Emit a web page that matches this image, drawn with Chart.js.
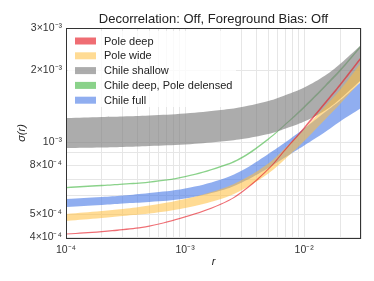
<!DOCTYPE html>
<html>
<head>
<meta charset="utf-8">
<script src="https://cdn.jsdelivr.net/npm/chart.js@4/dist/chart.umd.min.js"></script>
<style>
  html, body { margin: 0; padding: 0; background: #fff; }
  #wrap { width: 374px; height: 281px; }
</style>
</head>
<body>
<div id="wrap"><canvas id="sigmaChart"></canvas></div>
<script>
const rValues = [1e-4, 2e-4, 3e-4, 5e-4, 1e-3, 2e-3, 3e-3, 5e-3, 7e-3, 1e-2, 1.5e-2, 2e-2, 3e-2];

// sigma(r) bands: lower / upper edge
const poleDeepLow  = [4.10e-4, 4.195e-4, 4.275e-4, 4.425e-4, 4.83e-4, 5.47e-4, 6.13e-4, 7.65e-4, 9.27e-4, 1.131e-3, 1.439e-3, 1.711e-3, 2.220e-3];
const poleDeepHigh = [4.14e-4, 4.245e-4, 4.325e-4, 4.475e-4, 4.89e-4, 5.53e-4, 6.23e-4, 7.77e-4, 9.43e-4, 1.157e-3, 1.473e-3, 1.753e-3, 2.274e-3];

const poleWideLow  = [4.671e-4, 4.809e-4, 4.901e-4, 5.020e-4, 5.295e-4, 5.774e-4, 6.297e-4, 7.380e-4, 8.532e-4, 1.010e-3, 1.242e-3, 1.442e-3, 1.800e-3];
const poleWideHigh = [4.996e-4, 5.144e-4, 5.244e-4, 5.423e-4, 5.774e-4, 6.358e-4, 6.934e-4, 8.128e-4, 9.484e-4, 1.133e-3, 1.408e-3, 1.650e-3, 2.141e-3];

const chileShallowLow  = [9.438e-4, 9.484e-4, 9.530e-4, 9.622e-4, 9.762e-4, 1.005e-3, 1.029e-3, 1.080e-3, 1.139e-3, 1.218e-3, 1.355e-3, 1.513e-3, 1.817e-3];
const chileShallowHigh = [1.260e-3, 1.273e-3, 1.279e-3, 1.291e-3, 1.316e-3, 1.361e-3, 1.401e-3, 1.484e-3, 1.573e-3, 1.691e-3, 1.898e-3, 2.120e-3, 2.546e-3];

const chileDeepLow  = [6.41e-4, 6.54e-4, 6.63e-4, 6.76e-4, 7.13e-4, 7.85e-4, 8.54e-4, 1.021e-3, 1.180e-3, 1.386e-3, 1.696e-3, 1.970e-3, 2.493e-3];
const chileDeepHigh = [6.49e-4, 6.62e-4, 6.71e-4, 6.84e-4, 7.21e-4, 7.95e-4, 8.68e-4, 1.037e-3, 1.198e-3, 1.416e-3, 1.734e-3, 2.014e-3, 2.549e-3];

const chileFullLow  = [5.346e-4, 5.449e-4, 5.528e-4, 5.609e-4, 5.802e-4, 6.267e-4, 6.770e-4, 7.783e-4, 8.654e-4, 9.669e-4, 1.101e-3, 1.218e-3, 1.388e-3];
const chileFullHigh = [5.774e-4, 5.887e-4, 5.972e-4, 6.118e-4, 6.389e-4, 6.968e-4, 7.598e-4, 8.908e-4, 1.000e-3, 1.139e-3, 1.335e-3, 1.492e-3, 1.783e-3];

const seriesNames = ['Pole deep', 'Pole wide', 'Chile shallow', 'Chile deep, Pole delensed', 'Chile full'];
const seriesColors = ['rgba(230,30,40,0.65)', 'rgba(255,190,60,0.55)', 'rgba(128,128,128,0.65)', 'rgba(60,180,60,0.6)', 'rgba(70,120,230,0.6)'];
const bandLows = [poleDeepLow, poleWideLow, chileShallowLow, chileDeepLow, chileFullLow];
const bandHighs = [poleDeepHigh, poleWideHigh, chileShallowHigh, chileDeepHigh, chileFullHigh];

// tick positions (grid) and which of them get a label
const xGridValues = [1e-4, 2e-4, 3e-4, 4e-4, 5e-4, 6e-4, 7e-4, 8e-4, 9e-4,
                     1e-3, 2e-3, 3e-3, 4e-3, 5e-3, 6e-3, 7e-3, 8e-3, 9e-3,
                     1e-2, 2e-2, 3e-2];
const xTickLabels = {'0.0001': '10⁻⁴', '0.001': '10⁻³', '0.01': '10⁻²'};
const yGridValues = [4e-4, 5e-4, 6e-4, 7e-4, 8e-4, 9e-4, 1e-3, 2e-3, 3e-3];
const yTickLabels = {'0.0004': '4×10⁻⁴', '0.0005': '5×10⁻⁴', '0.0008': '8×10⁻⁴',
                     '0.001': '10⁻³', '0.002': '2×10⁻³', '0.003': '3×10⁻³'};

const chartTitle = 'Decorrelation: Off, Foreground Bias: Off';
const FONT = "'Liberation Sans', Arial, sans-serif";

function pts(arr) {
    return rValues.map((r, i) => ({ x: r, y: arr[i] }));
}

const datasets = [];
bandLows.forEach((low, i) => {
    datasets.push({
        label: seriesNames[i] + ' low',
        data: pts(low),
        borderWidth: 0,
        pointRadius: 0,
        fill: false,
        tension: 0.4
    });
    datasets.push({
        label: seriesNames[i],
        data: pts(bandHighs[i]),
        borderWidth: 0,
        pointRadius: 0,
        backgroundColor: seriesColors[i],
        fill: '-1',
        tension: 0.4
    });
});

// legend box goes under the curves, title / frame / axis names on top
const decorPlugin = {
    id: 'decor',
    beforeDatasetsDraw(chart) {
        const ctx = chart.ctx;
        const a = chart.chartArea;
        ctx.save();
        ctx.fillStyle = 'rgba(255,255,255,0.8)';
        ctx.fillRect(a.left + 2, a.top + 3, 168, 76);
        ctx.restore();
    },
    afterDraw(chart) {
        const ctx = chart.ctx;
        const a = chart.chartArea;
        ctx.save();
        ctx.strokeStyle = '#333';
        ctx.lineWidth = 1;
        ctx.strokeRect(Math.round(a.left) + 0.5, Math.round(a.top) + 0.5,
                       Math.round(a.right - a.left) - 1, Math.round(a.bottom - a.top) - 1);

        ctx.fillStyle = '#222';
        ctx.font = '13px ' + FONT;
        ctx.textAlign = 'center';
        ctx.textBaseline = 'alphabetic';
        ctx.fillText(chartTitle, (a.left + a.right) / 2, 23);

        // legend entries
        ctx.font = '11px ' + FONT;
        ctx.textAlign = 'left';
        ctx.textBaseline = 'middle';
        seriesNames.forEach((name, i) => {
            const y = a.top + 13 + i * 14.8;
            ctx.fillStyle = seriesColors[i];
            ctx.fillRect(a.left + 9, y - 3.5, 21, 7);
            ctx.fillStyle = '#222';
            ctx.fillText(name, a.left + 38, y + 0.5);
        });

        // axis titles
        ctx.font = 'italic 11px ' + FONT;
        ctx.textAlign = 'center';
        ctx.fillText('r', (a.left + a.right) / 2, 262);
        ctx.translate(22, 133);
        ctx.rotate(-Math.PI / 2);
        ctx.fillText('σ(r)', 0, 0);
        ctx.restore();
    }
};

const config = {
    type: 'line',
    data: { datasets: datasets },
    options: {
        responsive: true,
        maintainAspectRatio: false,
        animation: false,
        layout: { padding: { left: 0, right: 13, top: 28, bottom: 0 } },
        plugins: {
            legend: { display: false },
            tooltip: { enabled: false },
            title: { display: false }
        },
        scales: {
            x: {
                type: 'logarithmic',
                min: 1e-4,
                max: 3e-2,
                afterBuildTicks: scale => { scale.ticks = xGridValues.map(v => ({ value: v })); },
                afterFit: scale => { scale.height = 42; },
                grid: { color: '#e6e6e6', drawTicks: false },
                border: { display: false },
                ticks: {
                    autoSkip: false,
                    maxRotation: 0,
                    padding: 5,
                    color: '#333',
                    font: { family: FONT, size: 10.5 },
                    callback: v => xTickLabels[String(v)] || ''
                }
            },
            y: {
                type: 'logarithmic',
                min: 3.93e-4,
                max: 3e-3,
                afterBuildTicks: scale => { scale.ticks = yGridValues.map(v => ({ value: v })); },
                afterFit: scale => { scale.width = 66; },
                grid: { color: '#e6e6e6', drawTicks: false },
                border: { display: false },
                ticks: {
                    autoSkip: false,
                    padding: 4,
                    color: '#333',
                    font: { family: FONT, size: 10.5 },
                    callback: v => yTickLabels[String(v)] || ''
                }
            }
        }
    },
    plugins: [decorPlugin]
};

new Chart(document.getElementById('sigmaChart'), config);
</script>
</body>
</html>
